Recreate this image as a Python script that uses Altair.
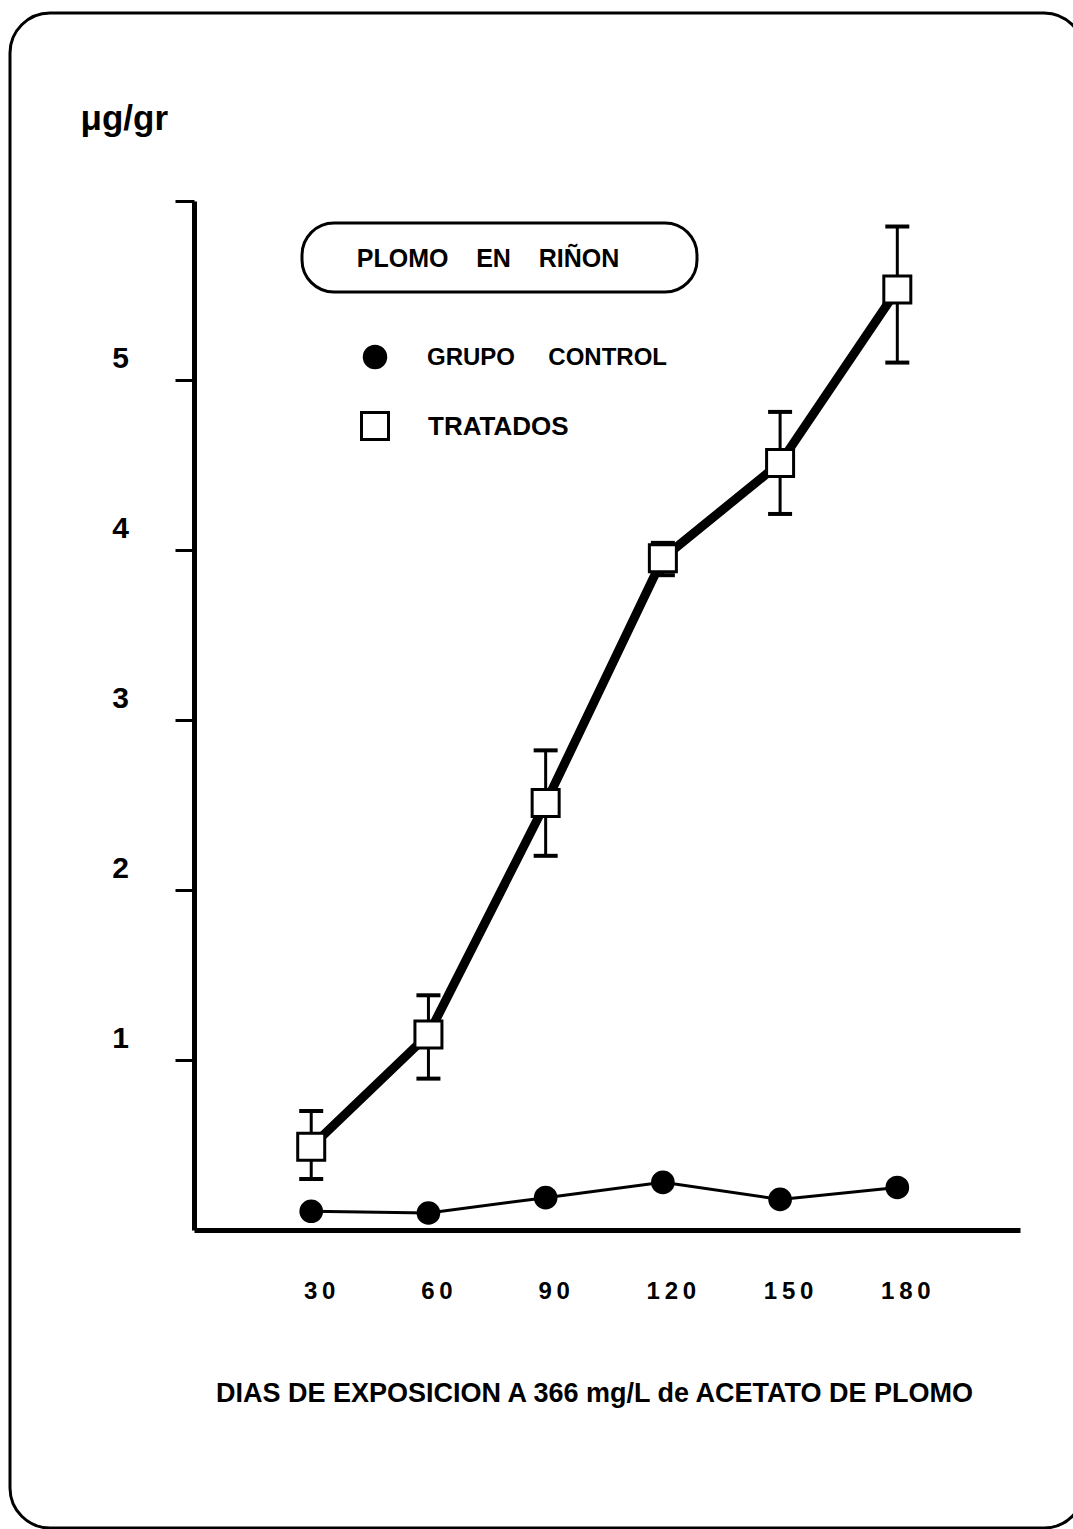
import altair as alt
import pandas as pd

# Lead in kidney (µg/gr) by days of exposure
days = [30, 60, 90, 120, 150, 180]
control = [0.11, 0.10, 0.19, 0.28, 0.18, 0.25]
treated = [0.49, 1.15, 2.51, 3.95, 4.51, 5.53]
treated_low = [0.30, 0.89, 2.20, 3.85, 4.21, 5.10]
treated_high = [0.70, 1.38, 2.82, 4.04, 4.81, 5.90]
y_ticks = [1, 2, 3, 4, 5]

NB = "\u00a0"
legend_title = f"PLOMO{NB * 4}EN{NB * 4}RIÑON"
series_names = [f"GRUPO{NB * 5}CONTROL", "TRATADOS"]
y_title = "μg/gr"
x_title = "DIAS DE EXPOSICION A 366 mg/L de ACETATO DE PLOMO"

FONT = "Liberation Sans"
W, H = 826, 1029
X_MAX = 211.4
Y_MAX = 6.05

df = pd.DataFrame({
    "dia": days,
    "control": control,
    "tratados": treated,
    "lo": treated_low,
    "hi": treated_high,
})
one = pd.DataFrame({"k": [0]})

x_scale = alt.Scale(domain=[0, X_MAX], nice=False, zero=True)
y_scale = alt.Scale(domain=[0, Y_MAX], nice=False, zero=True)

x_axis = alt.Axis(
    values=days, title=x_title, ticks=False, tickSize=0, grid=False,
    domainColor="black", domainWidth=5,
    # spaced-out digits
    labelExpr="join(split(datum.label, ''), '\u2009')",
    labelFont=FONT, labelFontSize=24, labelFontWeight="bold", labelColor="black",
    labelPadding=61, labelBaseline="middle", labelOffset=8,
    labelFlush=False, labelOverlap=False,
    titleFont=FONT, titleFontSize=27, titleFontWeight="bold", titleColor="black",
    titleX=400, titleY=163, titleAlign="center", titleBaseline="middle",
)

y_axis = alt.Axis(
    values=y_ticks + [Y_MAX], labelExpr="datum.value > 5.5 ? '' : datum.label",
    title=y_title, grid=False,
    domainColor="black", domainWidth=5,
    tickColor="black", tickSize=19, tickWidth=3,
    labelFont=FONT, labelFontSize=30, labelFontWeight="bold", labelColor="black",
    labelAlign="center", labelPadding=55, labelOffset=-21, labelBaseline="middle",
    labelFlush=False, labelOverlap=False,
    titleFont=FONT, titleFontSize=35, titleFontWeight="bold", titleColor="black",
    titleAngle=0, titleAlign="left", titleBaseline="middle", titleX=-114, titleY=-83,
)


def yq(field):
    return alt.Y(f"{field}:Q", scale=y_scale, axis=y_axis)


base = alt.Chart(df).encode(x=alt.X("dia:Q", scale=x_scale, axis=x_axis))

# Outer rounded frame
frame = alt.Chart(one).mark_rect(
    filled=False, stroke="black", strokeWidth=3, cornerRadius=40
).encode(x=alt.value(-184), x2=alt.value(890), y=alt.value(-188), y2=alt.value(1327))

# Legend
legend_box = alt.Chart(one).mark_rect(
    filled=False, stroke="black", strokeWidth=3, cornerRadius=32
).encode(x=alt.value(108), x2=alt.value(503), y=alt.value(22), y2=alt.value(91))
legend_head = alt.Chart(one).mark_text(
    text=legend_title, font=FONT, fontSize=25, fontWeight="bold", color="black",
    align="center", baseline="middle"
).encode(x=alt.value(294), y=alt.value(58))
legend_dot = alt.Chart(one).mark_point(
    shape="circle", filled=True, color="black", size=600, opacity=1
).encode(x=alt.value(181), y=alt.value(156))
legend_dot_text = alt.Chart(one).mark_text(
    text=series_names[0], font=FONT, fontSize=24, fontWeight="bold", color="black",
    align="left", baseline="middle"
).encode(x=alt.value(233), y=alt.value(157))
legend_sq = alt.Chart(one).mark_point(
    shape="square", filled=True, fill="white", stroke="black", strokeWidth=3,
    size=729, opacity=1
).encode(x=alt.value(181), y=alt.value(225))
legend_sq_text = alt.Chart(one).mark_text(
    text=series_names[1], font=FONT, fontSize=26, fontWeight="bold", color="black",
    align="left", baseline="middle"
).encode(x=alt.value(234), y=alt.value(226))

# Control group
control_line = base.mark_line(color="black", strokeWidth=3).encode(y=yq("control"))
control_pts = base.mark_point(
    shape="circle", filled=True, color="black", size=560, opacity=1
).encode(y=yq("control"))

# Treated group with error bars
treated_line = base.mark_line(color="black", strokeWidth=9).encode(y=yq("tratados"))
err = base.mark_rule(color="black", strokeWidth=3).encode(y=yq("lo"), y2="hi:Q")
cap_lo = base.mark_tick(orient="horizontal", color="black", size=24, thickness=4, opacity=1).encode(y=yq("lo"))
cap_hi = base.mark_tick(orient="horizontal", color="black", size=24, thickness=4, opacity=1).encode(y=yq("hi"))
treated_pts = base.mark_point(
    shape="square", filled=True, fill="white", stroke="black", strokeWidth=3,
    size=729, opacity=1
).encode(y=yq("tratados"))

chart = alt.layer(
    frame, legend_box, legend_head, legend_dot, legend_dot_text, legend_sq, legend_sq_text,
    control_line, control_pts, treated_line, err, cap_lo, cap_hi, treated_pts,
).properties(
    width=W, height=H,
    autosize=alt.AutoSizeParams(type="none"),
    padding={"left": 194, "top": 201, "right": 53, "bottom": 299},
    background="white",
).configure_view(strokeWidth=0)

chart.save("out.html", embed_options={"renderer": "svg", "actions": False})
